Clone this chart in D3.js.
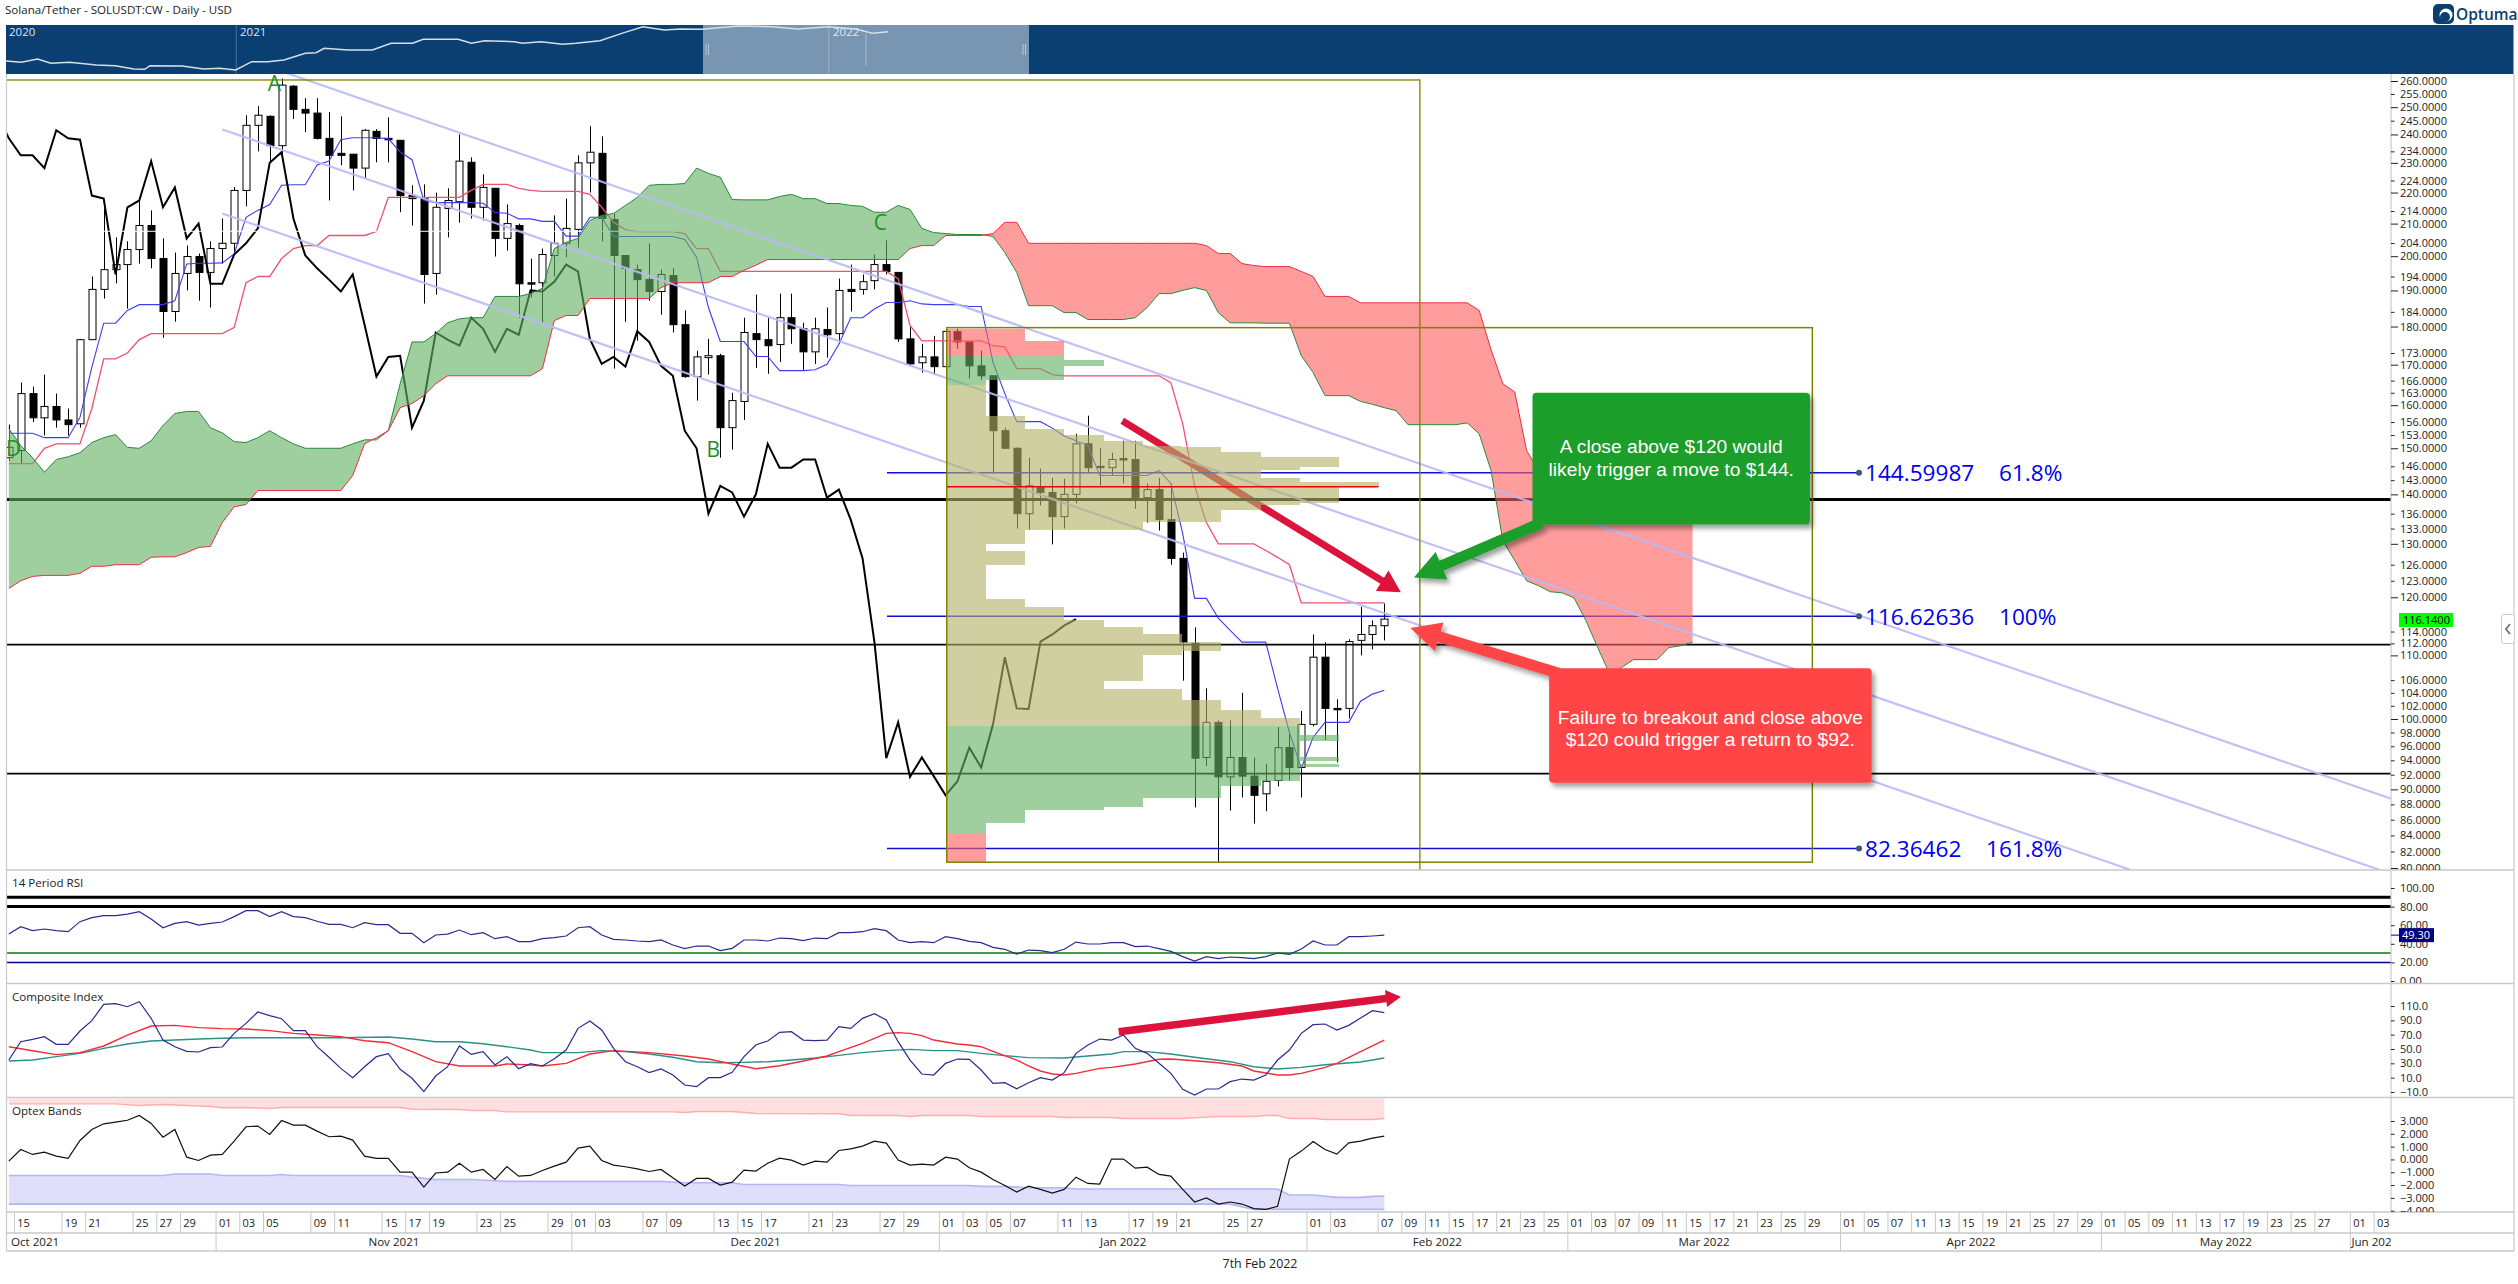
<!DOCTYPE html>
<html><head><meta charset="utf-8"><title>SOLUSDT</title>
<script src="https://cdn.jsdelivr.net/npm/d3@7"></script>
<style>html,body{margin:0;padding:0;background:#fff}svg{display:block}text{font-family:"Open Sans",sans-serif;fill:#222}</style>
</head><body><svg id="c" width="2518" height="1284"></svg>
<script>
// candles, first entry is the bar before 15 Oct 2021
const opens=[147.9,149.5,162.8,157,159.7,156.5,155.6,176.5,190.3,196,197.5,202,209.4,199.3,184.1,194.9,199.9,195.2,202.3,203.9,220.7,243.3,246.6,236,258,249.2,247.8,238.6,233.3,233,228.2,241.1,238.6,237.9,219,218,194.9,214.8,217,230.2,215.2,221.4,205.4,209.4,192.2,192.2,200.2,203.9,208.2,230,233.3,211.3,200.2,196,193.1,189.7,194.3,180.5,167,171.8,172.3,154.7,160.9,178.1,176.5,175.2,182.4,179.4,173.3,179.2,178.1,190.3,190.3,192.8,197.5,195.2,176.7,170.5,172,169.5,178.6,175.9,169.7,167.2,154,150,136,141.4,140.4,135.4,140,151,146,145.7,147.7,147.5,139.3,141,134.8,127.2,112,94.4,99.5,91.7,94.4,91.8,89.4,91.2,95.8,93,99.2,109.7,101.6,101.6,112.5,113.5,115];
const highs=[155.4,165.5,164.5,167.5,162.8,159.2,176.7,194,214.8,205.7,204.5,217.4,214.2,205.4,201.1,203.2,200.8,204.5,211.6,221.8,247,250.4,247,261,258.4,253.4,253.4,248.2,246.6,233,241.9,241.9,246.2,237.9,222.4,222.7,220,221.4,240,231.9,226.1,221.4,216.1,210,199.3,202.3,212.6,218,232.6,243,239.3,213.2,200.2,197.5,203.9,196,196.4,184.4,173.6,176.7,172.8,163,182.4,188.8,182.4,189.1,189.1,181,182.4,185.2,193.4,197.5,194.6,200.5,204.8,195.2,180,175.4,177.5,178.9,179.4,175.9,173.6,167.2,154.7,150.2,147.9,145.5,143.5,143.3,153.3,157.5,150.1,149,151.7,151.7,142.3,143.5,142.3,128.3,114.7,104.7,99.8,99.8,104,94.4,93.5,98.8,97.9,101.2,113.5,112.2,103,112.7,118.3,115.9,118.9];
const lows=[147.2,146.6,156,152.9,154.7,152.9,154.7,176.5,187.7,192,184.9,197.8,196.4,177,181.3,190,187.1,185.2,197.8,200.8,215.5,234,230.2,232.6,245.6,240.8,238.2,217.4,229.2,220.7,224.8,230.2,230.2,213.6,209.4,186.3,188.8,205.7,210.3,211.6,211,199.9,201.7,182.4,188,181,194,199.6,202.6,220,204.5,169,181.3,176.2,187.1,183.2,178.4,166.7,161.1,167.5,147.9,149.7,156.5,169.2,167.7,170.7,175.4,168.5,170.2,171.8,175.4,184.1,188.8,190.3,194.6,175.9,169.7,168,167.5,169.5,174.1,166.5,166.2,144.7,149.9,133,132.8,137.7,129.9,133,138.1,144.4,141.8,144,142.3,137,134.2,132.6,126,105.9,87.6,93.2,80.7,87.2,88.9,85.5,87.1,90.4,91.2,88.9,98.9,96.9,93.7,100.1,110,111,112.5];
const closes=[150.2,162.8,157,159.7,156.5,155.4,176.5,190.3,196,197.5,202,209.4,199.3,184.1,194.9,199.9,195.2,202.3,203.9,220.7,243.3,247,236,258.4,249.2,247.8,238.6,232.6,232.6,228.2,241.5,238.6,238.1,219,218,194.6,215.2,217.4,230.6,215.2,221.7,205.4,210,191.9,191.9,200.5,203.9,208.5,230,233.7,211.6,200.2,196.4,193.1,189.7,194.6,180.5,167,172,172.3,154.7,161.1,178.4,176.5,174.9,182.4,179.4,173.3,179.4,177.8,190,189.7,192.5,197.5,195.5,176.7,170.2,172,169.5,178.7,175.9,169.7,167.2,154,150,136,141.8,140.4,135.4,140,151,145.7,145.7,147.5,147.5,139.3,141,134.8,127.2,112.2,94.3,99.5,91.7,94.4,91.8,89.2,91.1,95.8,93,99.2,109.7,101.6,101.5,112.3,113.5,115,116.14];
const tenkan=[153.4,153.4,153.4,152.4,152.4,152.4,157.1,169.4,180.9,180.9,184.4,186,186,186,187.1,197.7,197.9,197.9,198,200.7,212,214.2,216.1,222.4,222.6,222.6,229.3,230.6,238.1,238.8,238.8,238.8,238.5,233.8,231.1,217.4,216.7,216.7,216.7,216.7,216.5,213.5,213.3,211.5,211.5,210.7,210.7,206.1,206.1,212,212,206,206,206,206,206,206,205.1,199.7,185.2,176,176,176,172.1,172.1,168.5,168.5,168.5,168.7,170.1,175.3,182.4,182.4,184.8,186.6,186.6,187.1,186.2,186,186,186,185.5,185.5,170.6,162.8,156.1,156.1,156.1,154.6,152.8,151.7,150.6,144,144,144,144,144,145.1,142.3,132,119.8,119.8,116.3,114.2,112.2,112.2,112.2,104.7,98,92.9,97.3,99.5,99.5,99.5,102.7,103.8,104.4];
const kijun=[146.6,146.6,146.6,150,151,151,151,159.2,171.5,171.5,173,176.5,178.1,178.1,178.1,178.1,178.1,178.1,178.1,179.7,192.2,194,194,199.3,202.3,203.2,203.2,206.3,206.3,206.3,206.3,207.5,218.4,218.4,218.4,218.4,218.4,218.4,218.4,220.7,222.7,222.7,222.7,221.4,220.7,220.4,220.4,220.4,220.4,219.4,215.2,210.4,208.1,207.5,207.5,207.5,207.5,206.9,202.3,202.3,195.5,195.5,195.5,195.5,195.5,195.5,195.5,195.5,195.5,195.5,195.5,195.5,195.5,195.5,195.5,193.4,180.3,176.2,176.2,176.2,176.2,176.2,176.2,174.9,174.6,169,169,169,167.5,167.2,167.2,167.2,167.2,167.2,167.2,167.2,167.2,167.2,165.5,155.6,141.8,134.2,130,130,130,130,128.7,127.4,126,119,119,119,119,119,119,119,119];
const senkouA=[154.5,150.6,147.9,144.7,147.5,148.1,149,151.3,152.4,153.1,150.2,150,151.7,155.2,158,158.5,158.5,154.7,153.5,151.5,151.3,152.4,154,152.4,151,150,150,150,150,151,151.9,151.9,154,165.2,175.9,175.9,178.1,181,182.1,182.4,182.4,188.3,188.3,188.3,189.1,190.6,202.3,204.2,205.4,211,212.6,213.2,215.8,218.4,222.4,222.7,222.7,223,228.2,226.4,225.1,217.7,217.6,217.6,217.6,218.7,219.4,218,218,216.4,216.4,215.8,215.5,213.6,213.6,215.8,214.5,208.5,207.2,206.9,206.6,206.6,206.6,206,201.1,195.2,185.7,185.7,185.7,183.8,183.8,181.9,181.9,181.9,181.9,182.4,185.2,189.1,189.1,190,190.8,190,183.8,181,181,181,180.9,180.9,180.9,172.3,168,162.3,162.3,162.3,160.9,160.2,159.4,158.7,155.4,155.4,155.4,155.4,155.4,155.8,153.3,145.1,130.6,126.8,123,122.1,121,120.8,119.9,115.9,111.3,107,108,109.3,109.3,109.3,111.3,111.6,112.2];
const senkouB=[121.6,123,123.8,124,124,124,124.4,125.7,125.7,126,126,126,127.4,127.5,127.5,128.3,129.3,129.5,134.2,137.4,137.9,140.8,140.8,140.8,140.8,140.8,140.8,140.8,140.8,144,151,152.4,154,159.4,160.4,162.3,165.2,167.2,167.2,167.2,167.2,167.2,167.2,167.2,167.2,169,181.6,183,183,187.7,187.7,187.7,187.7,187.7,187.7,190.8,192.2,192.2,192.2,192.2,194,194,195.8,197.3,199,199,199,199,199,199,199,199,199,199,199,199,202.3,203.2,203.2,206.3,206.3,206.3,206.3,206.9,210.4,210.4,203.9,203.9,203.9,203.9,203.9,203.9,203.9,203.9,203.9,203.9,203.9,203.9,203.9,203.9,203.9,203.2,200.8,200.8,197.8,197.2,196.9,196.9,196.9,195.5,194,188.3,188.3,188.3,186.5,186.5,186.5,186.5,186.5,186.5,186.5,186.5,186.5,186.5,184.4,173.9,165.2,163.2,149.5,145.1,140.8,138.7,137.7,136.6,136.6,136.6,136.6,136.6,136.6,136.6,136.6,136.6,136.6];
const rsi=[50.5,58.4,54.1,55.9,54.1,53,63.8,68.1,70.2,70.2,72,74.5,66.7,57.3,62,63.8,60.2,62,63.4,69.2,75.6,75.6,69.2,74.5,69.2,68.1,64.2,60.9,60.9,57.3,62.7,60.6,60.6,51.3,51.3,41.2,49.5,50.5,54.8,49.8,52,45.5,47.7,42.3,42.3,45.5,46.6,48.4,57.3,58.4,49.5,44.8,44.1,43,42.3,44.1,38.7,34.8,37.6,37.6,32.6,35.1,44.1,44.1,43,46.2,45.5,43.4,46.2,45.5,52,52,53,56.3,54.1,44.1,41.2,42.3,41.2,47.7,45.5,42.6,41.2,36.2,34.1,29,33.3,32.6,30.5,34.1,41.9,39.8,39.8,41.2,41.2,36.9,37.6,34.8,31.9,26.2,21.5,26.2,24,25.8,25.1,24,26.2,30.1,28.7,34.4,43,38.7,38.7,47.7,47.7,48.4,49.3];
const composite=[34.6,60.2,63.5,67.2,56.5,56.5,75.1,89.5,112.3,113.2,109,116,92.8,62.5,53.2,46.7,45.8,51.8,52.8,71.8,85.8,101.6,96.5,92.3,75.6,75.6,53.2,38.4,23,10,25.3,39.3,43.5,21.6,9.1,-9.5,12.3,25.3,54.2,42.5,46.3,27.7,39.3,22.5,29.5,26.3,36.5,48.6,78.8,89,76.5,50.9,32.3,25.3,17,22.1,13.7,-0.2,-2.6,10,10,17.4,39.3,55.6,61.2,73.2,74.2,62.5,61.6,62.5,81.2,78.8,92.8,99.3,90.4,60.2,34.6,15.1,13.7,30,36,35.6,20.7,2.1,3,-5.4,3,10,6.7,17,43.9,55.6,63.9,62.5,69.5,50.9,43.9,30,16,-6.3,-14.2,-5.8,-5.8,4.4,8.1,6.7,13.7,34.6,48.6,71.8,83.9,84.9,76.5,83,93.2,103.5,100.7];
const compRedBars=[-1,1,3,5,7,9,11,13,15,17,19,21,23,25,27,29,31,33,35,37,40,41,43,44,46,48,50,53,56,58,60,62,64,66,68,69,71,73,74,75,76,77,79,80,81,82,84,85,86,87,88,89,91,92,94,96,97,99,101,103,104,106,107,108,110,111,113,115];
const compRedVals=[53.2,47.6,42.1,44.9,54.2,69.5,82.1,83,79.8,78.4,77.9,75.6,71.8,69.5,67.2,61.6,58.8,46.3,32.3,26.3,26.3,29.1,27.7,26.3,30,43,47.7,44.9,40.2,36,29.1,22.5,26.7,33.2,40.2,46.3,57.9,71.8,72.8,71.8,68.6,62.5,57,55.6,53.2,46.7,34.6,26.3,19.3,15.1,13.7,16,23,24.4,29.1,35.6,36,33.7,30.9,26.3,19.3,13.7,13.7,16,24.4,30,46.3,62.5];
const compTealBars=[-1,1,3,5,7,9,11,13,15,17,19,23,27,31,33,35,37,39,41,43,44,47,49,51,53,55,57,59,61,63,65,67,69,71,73,75,77,79,81,83,85,88,90,92,93,95,97,99,102,104,106,108,110,113,115];
const compTealVals=[33.2,34.6,39.3,43.9,50.9,57,61.1,62.5,63.9,64.9,65.8,65.8,65.8,66.7,63.9,60.2,60.2,57.4,53.2,48.6,44.9,44.9,47.7,46.3,43,38.4,32.3,30.9,31.4,32.3,34.6,37.4,41.1,44.9,47.7,49.5,47.7,47.7,43.9,40.7,37.9,37.4,40.2,43,46.3,46.3,43,38.4,32.3,25.3,22.1,24.4,28.1,31.9,37.4];
const optex=[-0.13,0.78,0.39,0.57,0.26,0.08,1.48,2.34,2.78,2.91,3.06,3.43,2.81,1.74,2.34,0.18,-0.08,0.34,0.39,1.43,2.55,2.6,1.95,3.04,2.68,2.68,2.21,1.77,1.82,1.51,0.26,0.08,0.08,-0.99,-0.99,-2.16,-1.06,-0.99,-0.29,-0.99,-0.78,-1.56,-0.55,-1.3,-1.25,-0.86,-0.52,-0.21,0.88,1.04,-0.08,-0.44,-0.57,-0.73,-0.94,-0.78,-1.43,-2.08,-1.48,-1.48,-2,-1.77,-0.83,-0.91,-0.29,0.1,-0.05,-0.44,-0.13,-0.21,0.7,0.83,1.04,1.43,1.27,-0.05,-0.44,-0.36,-0.44,0.18,0.03,-0.65,-0.99,-1.56,-2.03,-2.55,-2.08,-2.34,-2.62,-2.34,-1.38,-1.87,-1.92,0.03,0.03,-0.68,-0.6,-1.17,-1.3,-2.34,-3.32,-3.01,-3.48,-3.32,-3.48,-3.84,-3.9,-3.66,0.03,0.65,1.4,0.78,0.42,1.3,1.43,1.66,1.82];
const optexUpBars=[-1,8,10,12,14,16,17,19,21,22,32,33,37,38,40,41,55,56,57,60,62,69,70,74,75,76,80,81,87,88,92,93,98,100,101,104,105,106,107,109,110,114,115];
const optexUpVals=[4.34,4.34,4.21,4.29,4.21,4.13,4.03,4.05,3.97,4.05,4.05,3.92,3.9,3.82,3.82,3.71,3.71,3.66,3.74,3.74,3.58,3.56,3.43,3.43,3.35,3.43,3.43,3.35,3.35,3.27,3.27,3.19,3.19,3.3,3.35,3.35,3.43,3.43,3.19,3.19,3.12,3.12,3.19];
const optexLoBars=[-1,12,13,16,17,21,22,23,32,33,35,38,40,41,54,56,60,61,69,70,80,81,83,85,88,89,106,107,109,111,113,114,115];
const optexLoVals=[-1.25,-1.25,-1.14,-1.14,-1.25,-1.25,-1.17,-1.25,-1.25,-1.38,-1.56,-1.56,-1.66,-1.71,-1.71,-1.82,-1.82,-1.95,-1.95,-2.03,-2.03,-2.1,-2.1,-2.21,-2.21,-2.31,-2.31,-2.78,-2.78,-2.96,-2.96,-2.88,-2.86];
const optexFloorBars=[-1,102,104,115];
const optexFloorVals=[-3.49,-3.49,-3.9,-3.9];
// volume by price
const vpHigh=[179.4,176.2,172.3,171.3,169.7,166.2,165,157.5,154.5,153,151.7,150.5,150.3,149.2,148.1,145.8,145.2,144,143.5,142.6,141.5,138.1,137.7,136.8,134.3,132.7,130,128.7,125.9,119.7,118.2,115.9,114.7,113.5,112.2,110.8,110,105.9,104.6,102.9,101.3,100.2,99,97.6,96.8,94.5,93.9,93.5,93,91.1,90.4,88.9,87.6,87.2,85.6,84.2];
const vpLow=[176.2,172.3,171.3,169.7,166.2,165,157.5,154.5,153,151.7,150.5,150.3,149.2,148.1,145.8,145.2,144,143.5,142.6,141.5,138.1,137.7,136.8,134.3,132.7,130,128.7,125.9,119.7,118.2,115.9,114.7,113.5,112.2,110.8,110,105.9,104.6,102.9,101.3,100.2,99,97.6,96.8,94.5,93.9,93.5,93,91.1,90.4,88.9,87.6,87.2,85.6,84.2,80.7];
const vpUnits=[2,3,3,4,3,1,1,2,3,4,5,6,7,8,10,9,8,8,9,11,10,9,8,7,5,2,1,2,1,2,3,4,5,6,7,6,5,4,6,7,8,9,9,10,9,10,9,10,9,8,7,5,4,2,1,1];
const vpKind=["r","r","g","g","g","g","t","t","t","t","t","t","t","t","t","t","t","t","t","t","t","t","t","t","t","t","t","t","t","t","t","t","t","t","t","t","t","t","t","t","t","t","g","g","g","g","g","g","g","g","g","g","g","g","g","r"];
// levels
const priceTicks=[260,255,250,245,240,234,230,224,220,214,210,204,200,194,190,184,180,173,170,166,163,160,156,153,150,146,143,140,136,133,130,126,123,120,114,112,110,106,104,102,100,98,96,94,92,90,88,86,84,82,80];
const rsiTicks=[100,80,60,40,20,0];
const rsiLevels=[90,80,30,20];
const compTicks=[110,90,70,50,30,10,-10];
const optexTicks=[3,2,1,0,-1,-2,-3,-4];
const fibPrices=[144.59987,116.62636,82.36462];
const fibValueLabels=["144.59987","116.62636","82.36462"];
const fibPercentLabels=["61.8%","100%","161.8%"];
const blackLevels=[138.9,111.8,92.15];
const pocPrice=141.6;
const whiteLevel=207.6;
const waveLabels=["D","A","B","C"];
const waveBars=[-0.6,21.4,58.4,72.5];
const wavePrices=[148.3,256,148,208];
const channelStartBars=[22,17,17];
const channelStartPrices=[263.8,241.8,213.2];
const channelEndBars=[200,198.9,177.9];
const channelEndPrices=[88.7,79.8,79.8];
// calendar
const dayLabels=["15","19","21","25","27","29","01","03","05","09","11","15","17","19","23","25","29","01","03","07","09","13","15","17","21","23","27","29","01","03","05","07","11","13","17","19","21","25","27","01","03","07","09","11","15","17","21","23","25","01","03","07","09","11","15","17","21","23","25","29","01","05","07","11","13","15","19","21","25","27","29","01","05","09","11","13","17","19","23","25","27","01","03"];
const dayBars=[0,4,6,10,12,14,17,19,21,25,27,31,33,35,39,41,45,47,49,53,55,59,61,63,67,69,73,75,78,80,82,84,88,90,94,96,98,102,104,109,111,115,117,119,121,123,125,127,129,131,133,135,137,139,141,143,145,147,149,151,154,156,158,160,162,164,166,168,170,172,174,176,178,180,182,184,186,188,190,192,194,197,199];
const monthLabels=["Oct 2021","Nov 2021","Dec 2021","Jan 2022","Feb 2022","Mar 2022","Apr 2022","May 2022","Jun 2022"];
const monthBars=[-1,17,47,78,109,131,154,176,197];
// overview strip
const miniPos=[11,40,70,95,130,180,215,250,270,280,340,380,410,440,470,500,530,570,590,605,650,695,730,770,790,855,880,905,960,975,1010,1050,1075,1120,1165,1200,1240,1270,1310,1380,1440,1490,1545,1598,1628,1658];
const miniLevel=[26.5,23.8,30.6,21.8,23.8,18.4,17,10.2,9.5,17,16.3,10.2,11.6,8.2,25.2,25.2,28.6,42.2,43.5,52.4,49,49,62.6,62.6,70.7,70.7,62.6,68,66,62.6,66,60.5,62.6,68,84.4,96.6,89.8,91.8,91.2,98,96.6,91.8,96.6,91.8,83,86.4];

const L=6.5,R=2391,RB=2514;
const svg=d3.select("#c");
const defs=svg.append("defs");
function clip(id,x,y,w,h){defs.append("clipPath").attr("id",id).append("rect").attr("x",x).attr("y",y).attr("width",w).attr("height",h);}
clip("cMain",L,74,R-L,796);clip("cMainAxis",R-1,74,RB-R+1,796);
clip("cRsiAxis",R-1,870,RB-R+1,113);clip("cOptAxis",R,1097,RB-R,115);
clip("cOpt",L,1097,R-L,115);clip("cDay",L,1212,R-L,22);clip("cMonth",L,1233,R-L,18);
const sh=defs.append("filter").attr("id","sh").attr("x","-10%").attr("y","-10%").attr("width","125%").attr("height","130%");
sh.append("feDropShadow").attr("dx",3).attr("dy",4).attr("stdDeviation",2.5).attr("flood-color","#000").attr("flood-opacity",.38);

const x=d3.scaleLinear().domain([0,115]).range([20.7,1384.3]);
const y=d3.scaleLog().domain([80,260]).range([868,81]);
const yRsi=d3.scaleLinear().domain([0,100]).range([981,888]);
const yComp=d3.scaleLinear().domain([-10,110]).range([1092,1006]);
const yOpt=d3.scaleLinear().domain([-4,3]).range([1210.7,1121]);
const tickX=i=>x(i)-6.2;
const seq=(arr,start)=>arr.map((v,k)=>({i:k+start,v}));
const zip=(b,v)=>b.map((i,k)=>({i,v:v[k]}));

// overview strip
const mx=d3.scaleLinear().domain([0,1568]).range([0,840]);
const my=d3.scaleLinear().domain([0,100]).range([74,25]);
svg.append("rect").attr("x",L-.5).attr("y",25).attr("width",RB-L).attr("height",49).attr("fill","#0b3f72");
svg.append("rect").attr("x",703).attr("y",25).attr("width",326).attr("height",49).attr("fill","#7896b2");
[441,1547].forEach(d=>svg.append("line").attr("x1",mx(d)).attr("x2",mx(d)).attr("y1",25).attr("y2",74).attr("stroke","#ffffff").attr("stroke-opacity",.25));
svg.append("path").attr("d",d3.line().x(d=>mx(d.i)).y(d=>my(d.v))(zip(miniPos,miniLevel))).attr("fill","none").attr("stroke","#d6dee8").attr("stroke-width",1.5);
svg.append("line").attr("x1",866).attr("x2",866).attr("y1",34).attr("y2",66).attr("stroke","#a9bccf");
[[9,"2020"],[240,"2021"],[833,"2022"]].forEach(d=>svg.append("text").attr("x",d[0]).attr("y",36).attr("font-size",11.5).style("fill","#dfe7ef").text(d[1]));
[706,708.5,1023,1025.5].forEach(v=>svg.append("line").attr("x1",v).attr("x2",v).attr("y1",44).attr("y2",55).attr("stroke","#b8c6d4"));

// header
svg.append("text").attr("x",5).attr("y",14).attr("font-size",11.6).text("Solana/Tether - SOLUSDT:CW - Daily - USD");
const logo=svg.append("g");
logo.append("rect").attr("x",2433).attr("y",4).attr("width",21).attr("height",20).attr("rx",5).attr("fill","#0b3f72");
logo.append("circle").attr("cx",2446).attr("cy",15).attr("r",6.5).attr("fill","#fff");
logo.append("circle").attr("cx",2445).attr("cy",17).attr("r",5).attr("fill","#0b3f72");
logo.append("text").attr("x",2456).attr("y",20).attr("font-size",15.5).style("fill","#0b3f72").attr("font-weight",600).text("Optuma");

// main pane
const main=svg.append("g").attr("clip-path","url(#cMain)");
const bars=opens.map((o,k)=>({i:k-1,o,h:highs[k],l:lows[k],c:closes[k]}));
const crisp=v=>Math.round(v)+.5;
const cg=main.append("g");
cg.selectAll("line").data(bars).join("line").attr("x1",d=>crisp(x(d.i))).attr("x2",d=>crisp(x(d.i))).attr("y1",d=>y(d.h)).attr("y2",d=>y(d.l)).attr("stroke","#000").attr("stroke-width",1);
cg.selectAll("rect").data(bars).join("rect").attr("x",d=>crisp(x(d.i))-3.5).attr("width",7)
  .attr("y",d=>y(Math.max(d.o,d.c))).attr("height",d=>Math.max(1.4,Math.abs(y(d.o)-y(d.c))))
  .attr("fill",d=>d.c>=d.o?"#fff":"#000").attr("stroke","#000").attr("stroke-width",1);
const ln=(sy)=>d3.line().x(d=>x(d.i)).y(d=>sy(d.v));
main.append("path").attr("d",ln(y)(seq(tenkan,-1))).attr("fill","none").attr("stroke","#3c3cf0").attr("stroke-width",1.1);
main.append("path").attr("d",ln(y)(seq(kijun,-1))).attr("fill","none").attr("stroke","#f0506e").attr("stroke-width",1.3);
main.append("path").attr("d",ln(y)(closes.slice(25).map((v,k)=>({i:k-2,v})))).attr("fill","none").attr("stroke","#000").attr("stroke-width",2);

function arrow(g,x0,y0,x1,y1,w,hw,hl,fill){
  const a=Math.atan2(y1-y0,x1-x0),c=Math.cos(a),s=Math.sin(a);
  const bx=x1-hl*c,by=y1-hl*s;
  const pts=[[x0-s*w/2,y0+c*w/2],[bx-s*w/2,by+c*w/2],[bx-s*hw/2,by+c*hw/2],[x1,y1],[bx+s*hw/2,by-c*hw/2],[bx+s*w/2,by-c*w/2],[x0+s*w/2,y0-c*w/2]];
  return g.append("polygon").attr("points",pts.map(p=>p.join(",")).join(" ")).attr("fill",fill);
}
arrow(main,x(92.9),y(156.3),x(116.4),y(120.9),7,24,22,"#dc143c");

// black levels and fib lines
blackLevels.forEach((p,k)=>main.append("line").attr("x1",L).attr("x2",R).attr("y1",y(p)).attr("y2",y(p)).attr("stroke","#000").attr("stroke-width",k==0?3:1.7));
main.append("line").attr("x1",L).attr("x2",R).attr("y1",y(whiteLevel)).attr("y2",y(whiteLevel)).attr("stroke","#fff").attr("stroke-width",1);
fibPrices.forEach(p=>main.append("line").attr("x1",887).attr("x2",1859).attr("y1",y(p)).attr("y2",y(p)).attr("stroke","#1010d0").attr("stroke-width",1.4));

// cloud: one polygon per run of bars where the span order stays the same
const cloudA=seq(senkouA,-1),cloudB=seq(senkouB,-1);
const cG=main.append("g");
function cloudPoly(run,col){
  const top=run.map(p=>[p.x,p.a]),bot=run.slice().reverse().map(p=>[p.x,p.b]);
  cG.append("polygon").attr("points",top.concat(bot).map(p=>p.join(",")).join(" ")).attr("fill",col).attr("fill-opacity",.62);
}
let run=[],bull=null;
cloudA.forEach((d,k)=>{
  const p={x:x(d.i),a:y(d.v),b:y(cloudB[k].v)};
  const isBull=d.v>=cloudB[k].v;
  if(bull!==null&&isBull!==bull){
    const q=run[run.length-1],d0=q.a-q.b,d1=p.a-p.b,t=d0/(d0-d1);
    const m={x:q.x+(p.x-q.x)*t,a:q.a+(p.a-q.a)*t,b:q.a+(p.a-q.a)*t};
    run.push(m);cloudPoly(run,bull?"rgb(100,178,100)":"rgb(255,97,97)");run=[m];
  }
  run.push(p);bull=isBull;
});
cloudPoly(run,bull?"rgb(100,178,100)":"rgb(255,97,97)");
main.append("path").attr("d",ln(y)(cloudA)).attr("fill","none").attr("stroke","#2a8a3a").attr("stroke-width",1);
main.append("path").attr("d",ln(y)(cloudB)).attr("fill","none").attr("stroke","#f02a40").attr("stroke-width",1);

// channel
channelStartBars.forEach((b,k)=>main.append("line").attr("x1",x(b)).attr("y1",y(channelStartPrices[k])).attr("x2",x(channelEndBars[k])).attr("y2",y(channelEndPrices[k])).attr("stroke","#b9b9f4").attr("stroke-width",2.2).attr("stroke-opacity",.9));

// volume by price
const vx=d3.scaleLinear().domain([0,11]).range([946.6,1378.5]);
const vpColors={t:"rgb(178,178,105)",g:"rgb(100,178,100)",r:"rgb(255,97,97)"};
main.append("g").selectAll("rect").data(vpUnits.map((u,k)=>({u,k}))).join("rect")
 .attr("x",vx(0)).attr("width",d=>vx(d.u)-vx(0)).attr("y",d=>y(vpHigh[d.k])).attr("height",d=>y(vpLow[d.k])-y(vpHigh[d.k]))
 .attr("fill",d=>vpColors[vpKind[d.k]]).attr("fill-opacity",.62).attr("shape-rendering","crispEdges");
main.append("line").attr("x1",vx(0)).attr("x2",vx(11)).attr("y1",y(pocPrice)).attr("y2",y(pocPrice)).attr("stroke","#f00000").attr("stroke-width",1.5);

// boxes
const olive="#808000";
main.append("rect").attr("x",x(-20)).attr("y",y(260.4)).attr("width",x(118)-x(-20)).attr("height",y(79.7)-y(260.4)+20).attr("fill","none").attr("stroke",olive).attr("stroke-width",1.3);
main.append("rect").attr("x",x(78.1)).attr("y",y(179.7)).attr("width",x(151.1)-x(78.1)).attr("height",y(80.7)-y(179.7)).attr("fill","none").attr("stroke",olive).attr("stroke-width",1.5);

// wave letters
waveLabels.forEach((t,k)=>main.append("text").attr("x",x(waveBars[k])).attr("y",y(wavePrices[k])).attr("text-anchor","middle").attr("font-size",21).style("fill","#1f8f1f").text(t));

// fib labels
fibPrices.forEach((p,k)=>{
 const g=svg.append("g");
 g.append("circle").attr("cx",1859).attr("cy",y(p)).attr("r",3).attr("fill","#44557a");
 g.append("text").attr("x",1865).attr("y",y(p)+8.5).attr("font-size",22.6).style("fill","#0000ee").text(fibValueLabels[k]);
 g.append("text").attr("x",[1999,1999,1986][k]).attr("y",y(p)+8.5).attr("font-size",22.6).style("fill","#0000ee").text(fibPercentLabels[k]);
});

// callouts
const call=svg.append("g");
const greenC="#1c9e2c",redC="#ff4545";
const g1=call.append("g").attr("filter","url(#sh)");
arrow(g1,x(128.3),y(134.2),x(117.5),y(123.6),11,30,30,greenC);
g1.append("rect").attr("x",x(127.5)).attr("y",y(163)).attr("width",x(150.9)-x(127.5)).attr("height",y(133.8)-y(163)).attr("rx",4).attr("fill",greenC);
const r1=call.append("g").attr("filter","url(#sh)");
arrow(r1,x(129.7),y(107.1),x(117.2),y(114.6),11,30,30,redC);
r1.append("rect").attr("x",x(128.9)).attr("y",y(107.9)).attr("width",x(156.1)-x(128.9)).attr("height",y(90.9)-y(107.9)).attr("rx",4).attr("fill",redC);
const boxT=(cx,yy,t)=>call.append("text").attr("x",cx).attr("y",yy).attr("text-anchor","middle").attr("font-size",19.2).style("font-family","'Liberation Sans',Arial,sans-serif").style("fill","#fff").text(t);
boxT((x(127.5)+x(150.9))/2,453,"A close above $120 would");
boxT((x(127.5)+x(150.9))/2,476,"likely trigger a move to $144.");
boxT((x(128.9)+x(156.1))/2,724,"Failure to breakout and close above");
boxT((x(128.9)+x(156.1))/2,746,"$120 could trigger a return to $92.");

// rsi pane
const rg=svg.append("g");
rsiLevels.forEach((v,k)=>rg.append("line").attr("x1",L).attr("x2",R).attr("y1",yRsi(v)).attr("y2",yRsi(v)).attr("stroke",["#000","#000","#0a7a0a","#000088"][k]).attr("stroke-width",k<2?3:1.5));
rg.append("path").attr("d",ln(yRsi)(seq(rsi,-1))).attr("fill","none").attr("stroke","#2a2a90").attr("stroke-width",1.2);
rg.append("text").attr("x",12).attr("y",887).attr("font-size",11.6).text("14 Period RSI");

// composite pane
const cp=svg.append("g");
cp.append("path").attr("d",ln(yComp)(zip(compTealBars,compTealVals))).attr("fill","none").attr("stroke","#2a9088").attr("stroke-width",1.4);
cp.append("path").attr("d",ln(yComp)(zip(compRedBars,compRedVals))).attr("fill","none").attr("stroke","#f52a3a").attr("stroke-width",1.4);
cp.append("path").attr("d",ln(yComp)(seq(composite,-1))).attr("fill","none").attr("stroke","#2a2a90").attr("stroke-width",1.2);
arrow(cp,x(92.6),yComp(74.1),x(116.4),yComp(123),7.5,17,15,"#dc143c");
cp.append("text").attr("x",12).attr("y",1001).attr("font-size",11.6).text("Composite Index");

// optex pane
const op=svg.append("g").attr("clip-path","url(#cOpt)");
const up=zip(optexUpBars,optexUpVals),lo=zip(optexLoBars,optexLoVals),fl=zip(optexFloorBars,optexFloorVals);
op.append("path").attr("d",d3.area().x(d=>x(d.i)).y0(yOpt(4.75)).y1(d=>yOpt(d.v))(up)).attr("fill","#ffdfdf");
op.append("path").attr("d",ln(yOpt)(up)).attr("fill","none").attr("stroke","#ffadad").attr("stroke-width",1.4);
const loPoly=lo.map(d=>[x(d.i),yOpt(d.v)]).concat(fl.slice().reverse().map(d=>[x(d.i),yOpt(d.v)]));
op.append("polygon").attr("points",loPoly.map(p=>p.join(",")).join(" ")).attr("fill","#dfdffc");
op.append("path").attr("d",ln(yOpt)(lo)).attr("fill","none").attr("stroke","#b5b5f5").attr("stroke-width",1.6);
op.append("path").attr("d",ln(yOpt)(fl)).attr("fill","none").attr("stroke","#b5b5f5").attr("stroke-width",1.6);
op.append("path").attr("d",ln(yOpt)(seq(optex,-1))).attr("fill","none").attr("stroke","#111").attr("stroke-width",1.2);
svg.append("text").attr("x",12).attr("y",1115).attr("font-size",11.6).text("Optex Bands");

// frame
const grey="#c9c9c9";
[870,983.5,1097.5,1212,1233,1251].forEach(v=>svg.append("line").attr("x1",L).attr("x2",RB).attr("y1",v).attr("y2",v).attr("stroke",grey).attr("stroke-width",1.4));
[[L,74,1251],[R,74,1212],[RB,74,1251]].forEach(d=>svg.append("line").attr("x1",d[0]).attr("x2",d[0]).attr("y1",d[1]).attr("y2",d[2]).attr("stroke",grey).attr("stroke-width",1.2));

// right axes
function placed(id,scale,ticks,fmt,major){
 const holder=svg.append("g").attr("clip-path",id?`url(#${id})`:null);
 const g=holder.append("g").attr("transform",`translate(${R},0)`);
 g.call(d3.axisRight(scale).tickValues(ticks).tickFormat(d3.format(fmt)).tickSize(3.5).tickPadding(5.5));
 g.select(".domain").remove();
 g.selectAll("text").attr("font-size",11).attr("x",9).style("font-family","'Open Sans',sans-serif").style("fill","#222");
 g.selectAll("line").attr("stroke","#222");
 if(major)g.selectAll(".tick line").attr("x2",d=>major(d)?7:3.5);
}
placed("cMainAxis",y,priceTicks,".4f",d=>d%10===0);
placed("cRsiAxis",yRsi,rsiTicks,".2f");
placed(null,yComp,compTicks,".1f");
placed("cOptAxis",yOpt,optexTicks,".3f");

// last value tags
svg.append("rect").attr("x",2399).attr("y",613).attr("width",54).attr("height",14).attr("fill","#00ff00");
svg.append("text").attr("x",2403).attr("y",624).attr("font-size",11).style("fill","#000").text(d3.format(".4f")(closes[closes.length-1]));
svg.append("line").attr("x1",R).attr("x2",2399).attr("y1",yRsi(49.3)).attr("y2",yRsi(49.3)).attr("stroke","#000080");
svg.append("rect").attr("x",2399).attr("y",yRsi(49.3)-7).attr("width",35).attr("height",14).attr("fill","#000080");
svg.append("text").attr("x",2402).attr("y",yRsi(49.3)+4).attr("font-size",11).style("fill","#fff").text(d3.format(".2f")(rsi[rsi.length-1]));
svg.append("rect").attr("x",2501.5).attr("y",614.5).attr("width",13).attr("height",29).attr("rx",2).attr("fill","#fff").attr("stroke",grey);
svg.append("path").attr("d","M2510 624 L2506 629 L2510 634").attr("fill","none").attr("stroke","#777").attr("stroke-width",2);

// date axis
const dayG=svg.append("g").attr("clip-path","url(#cDay)");
dayG.selectAll("line").data(dayBars).join("line").attr("x1",d=>tickX(d)).attr("x2",d=>tickX(d)).attr("y1",1212).attr("y2",1233).attr("stroke",grey);
dayG.selectAll("text").data(dayLabels).join("text").attr("x",(d,k)=>tickX(dayBars[k])+2.8).attr("y",1227).attr("font-size",11).text(d=>d);
const monG=svg.append("g").attr("clip-path","url(#cMonth)");
monG.selectAll("line").data(monthBars.slice(1)).join("line").attr("x1",d=>tickX(d)).attr("x2",d=>tickX(d)).attr("y1",1233).attr("y2",1251).attr("stroke",grey);
monthLabels.forEach((t,k)=>{
 const edge=k===0||k===monthLabels.length-1;
 const xx=k===0?11:(edge?tickX(monthBars[k])+1:(tickX(monthBars[k])+tickX(monthBars[k+1]))/2);
 monG.append("text").attr("x",xx).attr("y",1246).attr("font-size",11.6).attr("text-anchor",edge?"start":"middle").text(t);
});
svg.append("text").attr("x",1260).attr("y",1268).attr("text-anchor","middle").attr("font-size",12.4).text("7th Feb 2022");
</script></body></html>
